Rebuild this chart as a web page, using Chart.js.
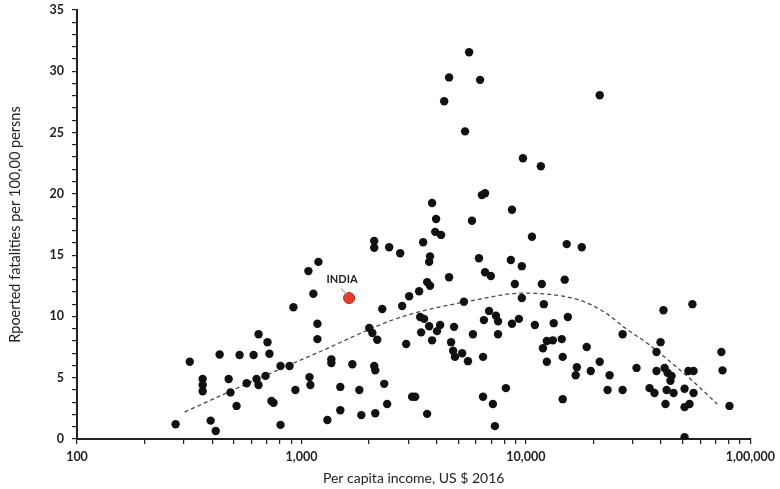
<!DOCTYPE html>
<html>
<head>
<meta charset="utf-8">
<script src="https://cdn.jsdelivr.net/npm/chart.js@4.4.1/dist/chart.umd.min.js"></script>
<style>
  html, body { margin: 0; padding: 0; background: #fff; }
</style>
</head>
<body>
<canvas id="roadChart" width="780" height="489"></canvas>
<script>
// per capita income (US $ 2016) and road fatalities per 100,000 people, one entry per country
const incomeUSD = [
  275, 318, 363, 363, 363, 394, 415, 432, 474, 483,
  514, 530, 570, 612, 631, 644, 644, 706, 720, 692,
  735, 751, 807, 807, 885, 921, 940, 1074, 1190, 1130,
  1178, 1178, 1086, 1096, 1305, 1359, 1359, 1490, 1490, 1686,
  1811, 1848, 2133, 2005, 2070, 2177, 2110, 2133, 2110, 2110,
  2460, 2291, 2338, 2410, 2754, 2810, 2929, 3020, 3114, 3213,
  3345, 3381, 3521, 3414, 3485, 3631, 3741, 3631, 3706, 3741,
  3706, 3820, 3820, 3981, 3944, 4188, 4018, 4150, 4325, 4548,
  4548, 4642, 4786, 4742, 4831, 5200, 5297, 5358, 5521, 5585,
  5754, 5808, 6180, 6252, 6368, 6577, 6442, 6442, 6501, 6577,
  6982, 6855, 7129, 7278, 7356, 7516, 7516, 8147, 8670, 8570,
  8670, 8933, 9311, 9594, 9594, 9704, 10641, 10965, 11660, 11776,
  12023, 11912, 12397, 12397, 13183, 13305, 14454, 14588, 14588, 14894,
  15205, 15381, 17742, 16866, 16672, 18664, 19454, 21330, 21330, 23605,
  23121, 26977, 26977, 31117, 35563, 37411, 38194, 38194, 39811, 41020,
  41495, 42756, 44566, 44055, 42364, 45499, 41879, 50933, 50933, 50933,
  53580, 52966, 55847, 55847, 55208, 74302, 75162, 80724
];
const fatalityRate = [
  1.2, 6.3, 4.9, 4.4, 3.9, 1.5, 0.65, 6.9, 4.9, 3.8,
  2.7, 6.85, 4.55, 6.85, 4.9, 4.4, 8.55, 7.9, 6.95, 5.15,
  3.1, 2.95, 5.95, 1.15, 5.95, 10.75, 4.0, 13.7, 14.45, 11.85,
  9.4, 8.15, 5.05, 4.4, 1.55, 6.5, 6.2, 4.25, 2.35, 6.1,
  4.0, 1.95, 2.1, 9.05, 8.65, 8.1, 5.95, 5.6, 16.15, 15.6,
  15.65, 10.6, 4.5, 2.85, 15.15, 10.85, 7.75, 11.65, 3.45, 3.45,
  12.05, 9.95, 9.8, 8.7, 16.05, 12.8, 12.5, 2.05, 9.2, 14.9,
  14.45, 19.25, 8.05, 17.95, 16.9, 16.65, 8.8, 9.3, 27.55, 29.5,
  13.2, 7.9, 9.15, 7.2, 6.7, 7.0, 11.2, 25.1, 6.35, 31.55,
  17.8, 8.55, 14.75, 29.3, 19.9, 20.05, 6.7, 3.45, 9.7, 13.6,
  13.3, 10.45, 2.85, 1.05, 10.05, 9.6, 8.55, 4.15, 18.7, 14.6,
  9.4, 12.65, 9.8, 14.1, 11.5, 22.9, 16.5, 9.3, 22.25, 12.65,
  11.0, 7.4, 8.0, 6.3, 8.05, 9.45, 8.15, 6.7, 3.25, 13.0,
  15.9, 9.95, 15.65, 5.85, 5.2, 7.5, 5.55, 28.05, 6.3, 5.2,
  4.0, 4.0, 8.55, 5.8, 4.15, 3.75, 7.1, 5.55, 7.9, 10.5,
  5.8, 5.4, 5.15, 4.75, 4.0, 3.75, 2.85, 4.1, 2.6, 0.15,
  2.85, 5.55, 5.55, 3.75, 11.0, 7.1, 5.6, 2.7
];

// India, highlighted
const indiaIncome = 1630;
const indiaRate = 11.5;

// fitted trend curve, sampled along its length
const trendIncome = [302, 570, 1200, 2730, 5800, 9700, 17200, 22600, 27700, 35400, 44600, 56800, 71200];
const trendRate = [2.2, 4.5, 7.1, 9.9, 11.3, 11.9, 11.35, 10.3, 9.05, 7.7, 6.2, 4.55, 2.85];

// x axis labels use Indian digit grouping
const xTickValues = [100, 1000, 10000, 100000];
const xTickText = ['100', '1,000', '10,000', '1,00,000'];
const yTickStep = 5;

const FONT = 'Lato, "Open Sans", sans-serif';

// "INDIA" callout next to the red point
const indiaLabel = {
  id: 'indiaLabel',
  afterDatasetsDraw(chart) {
    const pt = chart.getDatasetMeta(1).data[0];
    if (!pt) return;
    const { ctx } = chart;
    ctx.save();
    ctx.strokeStyle = '#8a8a8a';
    ctx.lineWidth = 1;
    ctx.beginPath();
    ctx.moveTo(pt.x - 8, pt.y - 10);
    ctx.lineTo(pt.x - 2, pt.y - 3);
    ctx.stroke();
    ctx.fillStyle = '#222';
    ctx.font = 'bold 11px ' + FONT;
    ctx.textAlign = 'center';
    ctx.textBaseline = 'middle';
    ctx.fillText('INDIA', pt.x - 7, pt.y - 19);
    ctx.restore();
  }
};

// minor ticks: every 1 on y, 2..9 of each decade on x; only the main ones get labels
function yMinorTicks(s) {
  const t = [];
  for (let v = 0; v <= 35; v++) t.push({ value: v });
  s.ticks = t;
}
function xMinorTicks(s) {
  const t = [];
  for (let d = 100; d <= 100000; d *= 10) {
    for (let m = 1; m < 10 && d * m <= 100000; m++) t.push({ value: d * m });
  }
  s.ticks = t;
}

const tickMarks = { display: true, drawOnChartArea: false, drawTicks: true, tickLength: 5, color: '#222', lineWidth: 1.2 };

new Chart('roadChart', {
  type: 'scatter',
  data: {
    datasets: [
      {
        data: incomeUSD.map((v, i) => ({ x: v, y: fatalityRate[i] })),
        backgroundColor: '#111',
        borderWidth: 0,
        pointRadius: 4.2
      },
      {
        data: [{ x: indiaIncome, y: indiaRate }],
        backgroundColor: '#e53b2c',
        borderColor: '#b8281d',
        borderWidth: 1,
        pointRadius: 5.5
      },
      {
        type: 'line',
        data: trendIncome.map((v, i) => ({ x: v, y: trendRate[i] })),
        borderColor: '#4a4a4a',
        borderWidth: 1.3,
        borderDash: [4, 3],
        pointRadius: 0,
        cubicInterpolationMode: 'monotone',
        fill: false
      }
    ]
  },
  options: {
    responsive: false,
    animation: false,
    layout: { padding: { top: 10, right: 28, bottom: 0, left: 0 } },
    plugins: {
      legend: { display: false },
      tooltip: { enabled: false }
    },
    scales: {
      x: {
        type: 'logarithmic',
        min: 100,
        max: 100000,
        afterFit: s => { s.height = 50; },
        afterBuildTicks: xMinorTicks,
        grid: tickMarks,
        border: { color: '#222', width: 2 },
        ticks: {
          autoSkip: false,
          maxRotation: 0,
          padding: 5,
          color: '#222',
          font: { family: FONT, size: 12.5, weight: 'bold' },
          callback: v => xTickText[xTickValues.indexOf(v)] ?? ''
        },
        title: {
          display: true,
          text: 'Per capita income, US $ 2016',
          color: '#222',
          font: { family: FONT, size: 14 },
          padding: { top: 0, bottom: 2 }
        }
      },
      y: {
        min: 0,
        max: 35,
        afterFit: s => { s.width = 77; s.paddingTop = 0; s.paddingBottom = 0; },
        afterBuildTicks: yMinorTicks,
        grid: tickMarks,
        border: { color: '#222', width: 2 },
        ticks: {
          autoSkip: false,
          padding: 8,
          color: '#222',
          font: { family: FONT, size: 12.5, weight: 'bold' },
          callback: v => (v % yTickStep === 0 ? v : '')
        },
        title: {
          display: true,
          text: 'Rpoerted fatalities per 100,00 persns',
          color: '#222',
          font: { family: FONT, size: 14.5 },
          padding: { top: 7, bottom: 0 }
        }
      }
    }
  },
  plugins: [indiaLabel]
});
</script>
</body>
</html>
